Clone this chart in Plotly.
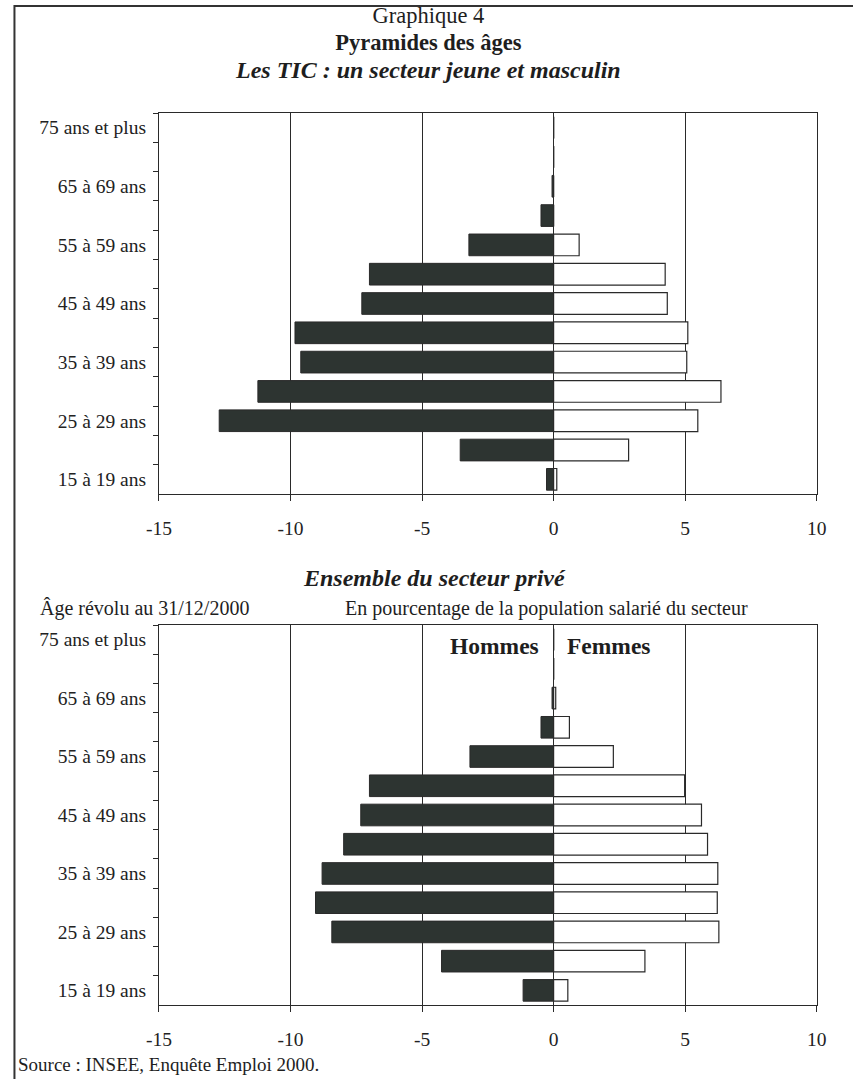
import plotly.graph_objects as go

W, H = 853, 1079

categories = ["15 à 19 ans", "20 à 24 ans", "25 à 29 ans", "30 à 34 ans", "35 à 39 ans",
              "40 à 44 ans", "45 à 49 ans", "50 à 54 ans", "55 à 59 ans", "60 à 64 ans",
              "65 à 69 ans", "70 à 74 ans", "75 ans et plus"]
tick_labels = ["15 à 19 ans", "", "25 à 29 ans", "", "35 à 39 ans", "", "45 à 49 ans", "",
               "55 à 59 ans", "", "65 à 69 ans", "", "75 ans et plus"]

tic_hommes = [-0.27, -3.55, -12.71, -11.24, -9.61, -9.83, -7.29, -7.0, -3.22, -0.48, -0.06, 0, 0]
tic_femmes = [0.12, 2.85, 5.48, 6.36, 5.06, 5.10, 4.32, 4.24, 0.97, 0, 0, 0, 0]

prive_hommes = [-1.16, -4.26, -8.43, -9.05, -8.80, -7.98, -7.33, -7.0, -3.18, -0.48, -0.06, 0, 0]
prive_femmes = [0.54, 3.47, 6.28, 6.22, 6.24, 5.85, 5.62, 4.98, 2.27, 0.6, 0.08, 0, 0]

x_ticks = [-15, -10, -5, 0, 5, 10]
x_tick_labels = ["-15", "-10", "-5", "0", "5", "10"]

title_lines = ["Graphique 4", "Pyramides des âges", "Les TIC : un secteur jeune et masculin"]

DARK = "#2d3431"
LINE = "#2a2a2a"
FONT = "Liberation Serif, Times New Roman, serif"


def px_x(p):
    return p / W


def px_y(p):
    return 1 - p / H


fig = go.Figure()

for hommes, femmes, ax in [(tic_hommes, tic_femmes, ""), (prive_hommes, prive_femmes, "2")]:
    fig.add_trace(go.Bar(y=categories, x=hommes, orientation="h", name="Hommes",
                         marker=dict(color=DARK, line=dict(color=LINE, width=1)),
                         xaxis="x" + ax, yaxis="y" + ax, showlegend=False))
    fig.add_trace(go.Bar(y=categories, x=femmes, orientation="h", name="Femmes",
                         marker=dict(color="white", line=dict(color=LINE, width=1.2)),
                         xaxis="x" + ax, yaxis="y" + ax, showlegend=False))

xdom = [px_x(150), px_x(826)]
xcommon = dict(range=[-15, 10], tickvals=x_ticks, ticktext=x_tick_labels, showgrid=True,
               gridcolor=LINE, gridwidth=1, zeroline=False, showline=True, linecolor=LINE,
               linewidth=1, mirror=True, ticks="outside", ticklen=6, tickcolor=LINE,
               tickfont=dict(family=FONT, size=19.5, color="#222"), ticklabelstandoff=11,
               domain=xdom, fixedrange=True)
ycommon = dict(type="category", categoryorder="array", categoryarray=categories,
               tickvals=categories, ticktext=tick_labels, tickson="boundaries",
               ticks="outside", ticklen=5, tickcolor=LINE, showgrid=False,
               showline=True, linecolor=LINE, linewidth=1, mirror=True,
               tickfont=dict(family=FONT, size=19.5, color="#222"), ticklabelstandoff=8,
               range=[-0.5, 12.5], fixedrange=True)

fig.update_layout(
    width=W, height=H,
    margin=dict(l=0, r=0, t=0, b=0),
    paper_bgcolor="white", plot_bgcolor="white",
    barmode="relative", bargap=0.26,
    xaxis=dict(**xcommon, anchor="y"),
    yaxis=dict(**ycommon, domain=[px_y(494), px_y(113)], anchor="x"),
    xaxis2=dict(**xcommon, anchor="y2"),
    yaxis2=dict(**ycommon, domain=[px_y(1005), px_y(625)], anchor="x2"),
)

ann = []


def txt(t, x, y, size=19, xanchor="center", bold=False, italic=False):
    s = t
    if bold:
        s = "<b>" + s + "</b>"
    if italic:
        s = "<i>" + s + "</i>"
    ann.append(dict(text=s, x=px_x(x), y=px_y(y), xref="paper", yref="paper",
                    xanchor=xanchor, yanchor="middle", showarrow=False,
                    font=dict(family=FONT, size=size, color="#1e1e1e")))


# three-line header as one text block
header = ("<span style='font-size:22.5px'>" + title_lines[0] + "</span><br>"
          + "<span style='font-size:22.5px'><b>" + title_lines[1] + "</b></span><br>"
          + "<span style='font-size:24px'><b><i>" + title_lines[2] + "</i></b></span>")
ann.append(dict(text=header, x=px_x(427), y=px_y(43), xref="paper", yref="paper",
                xanchor="center", yanchor="middle", align="center", showarrow=False,
                font=dict(family=FONT, size=21, color="#1e1e1e")))

txt("Ensemble du secteur privé", 433, 578, size=24, bold=True, italic=True)
txt("Âge révolu au 31/12/2000", 26, 608, size=20, xanchor="left")
txt("En pourcentage de la population salarié du secteur", 339, 608, size=20, xanchor="left")
txt("Hommes", 543, 646, size=23.5, xanchor="right", bold=True)
txt("Femmes", 567, 646, size=23.5, xanchor="left", bold=True)
txt("Source : INSEE, Enquête Emploi 2000.", 3, 1064, size=19, xanchor="left")

fig.update_layout(annotations=ann)

fig.add_shape(type="rect", xref="paper", yref="paper",
              x0=px_x(1.5), x1=px_x(880), y0=px_y(1100), y1=px_y(6),
              line=dict(color="#333", width=2), fillcolor="rgba(0,0,0,0)", layer="below")

fig.write_html("out.html", config={"responsive": False, "displayModeBar": False},
               post_script="document.body.style.margin='0px';document.body.style.overflow='hidden';")
